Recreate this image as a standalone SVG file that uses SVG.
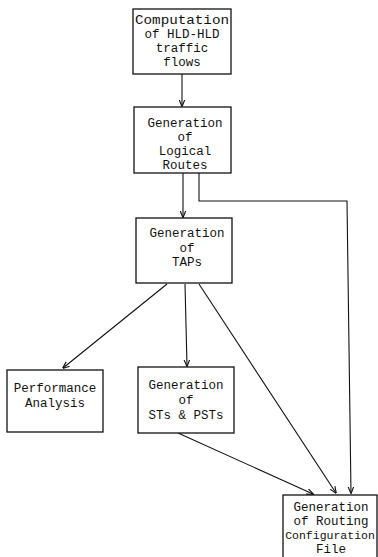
<svg xmlns="http://www.w3.org/2000/svg" width="378" height="557" viewBox="0 0 378 557">
<style>
.box{fill:#fff;stroke:#111;stroke-width:1.3}
.t{font-family:"Liberation Mono","DejaVu Sans Mono",monospace;font-size:12.5px;fill:#111;text-anchor:middle}
.c{fill:none;stroke:#111;stroke-width:1.1}
</style>
<defs>
<marker id="ah" viewBox="0 0 10 10" refX="9" refY="5" markerWidth="7" markerHeight="7" orient="auto" markerUnits="userSpaceOnUse">
<path d="M0,1 L10,5 L0,9" fill="none" stroke="#111" stroke-width="1.6"/>
</marker>
</defs>
<rect width="378" height="557" fill="#fff"/>
<g id="connectors">
<line class="c" x1="182" y1="74" x2="182" y2="106" marker-end="url(#ah)"/>
<line class="c" x1="183" y1="173" x2="183" y2="217" marker-end="url(#ah)"/>
<polyline class="c" points="199,173 199,201 347,201 351,493" marker-end="url(#ah)"/>
<line class="c" x1="167" y1="284" x2="63" y2="368" marker-end="url(#ah)"/>
<line class="c" x1="185" y1="284" x2="187" y2="366" marker-end="url(#ah)"/>
<line class="c" x1="199" y1="284" x2="336" y2="493" marker-end="url(#ah)"/>
<line class="c" x1="178" y1="433" x2="313" y2="494" marker-end="url(#ah)"/>
</g>
<g id="n1">
<rect class="box" x="133" y="9" width="98" height="65"/>
<text class="t" x="182" y="24" textLength="94" lengthAdjust="spacingAndGlyphs">Computation</text>
<text class="t" x="182" y="38">of HLD-HLD</text>
<text class="t" x="182" y="52">traffic</text>
<text class="t" x="182" y="66">flows</text>
</g>
<g id="n2">
<rect class="box" x="134" y="107" width="97" height="66"/>
<text class="t" x="185" y="127">Generation</text>
<text class="t" x="185" y="141">of</text>
<text class="t" x="185" y="155">Logical</text>
<text class="t" x="185" y="169">Routes</text>
</g>
<g id="n3">
<rect class="box" x="136" y="218" width="96" height="65"/>
<text class="t" x="187" y="237">Generation</text>
<text class="t" x="187" y="252">of</text>
<text class="t" x="187" y="266">TAPs</text>
</g>
<g id="n4">
<rect class="box" x="7" y="370" width="96" height="62"/>
<text class="t" x="55" y="392">Performance</text>
<text class="t" x="55" y="407">Analysis</text>
</g>
<g id="n5">
<rect class="box" x="138" y="367" width="96" height="66"/>
<text class="t" x="186" y="389">Generation</text>
<text class="t" x="186" y="404">of</text>
<text class="t" x="186" y="419">STs &amp; PSTs</text>
</g>
<g id="n6">
<rect class="box" x="283" y="495" width="94" height="70"/>
<text class="t" x="331" y="511">Generation</text>
<text class="t" x="331" y="525">of Routing</text>
<text class="t" x="330" y="539" style="font-size:11.5px">Configuration</text>
<text class="t" x="331" y="553">File</text>
</g>
</svg>
